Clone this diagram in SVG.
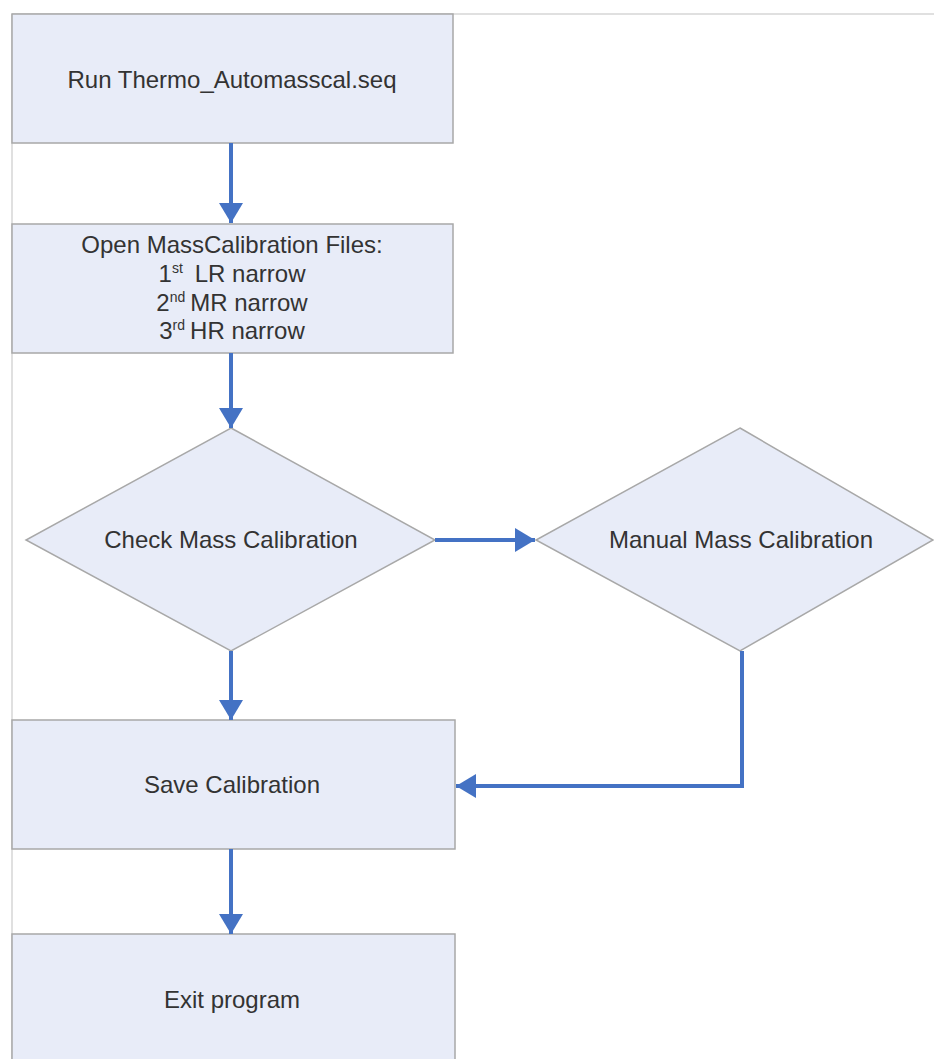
<svg xmlns="http://www.w3.org/2000/svg" width="934" height="1059" viewBox="0 0 934 1059">
<style>
.box{fill:#E8ECF8;stroke:#A8A8A8;stroke-width:1.5}
.frame{stroke:#D6D6D6;stroke-width:1.5;fill:none}
.t{font-family:"Liberation Sans",Arial,sans-serif;font-size:24px;fill:#333;text-anchor:middle}
.sup{font-size:14px}
.c{stroke:#4472C4;stroke-width:4;fill:none;marker-end:url(#ah)}
</style>
<defs>
<marker id="ah" markerUnits="userSpaceOnUse" markerWidth="22" markerHeight="24" refX="20" refY="12" orient="auto">
<path d="M0,0 L20,12 L0,24 z" fill="#4472C4"/>
</marker>
</defs>
<rect width="934" height="1059" fill="#FFFFFF"/>
<g id="frame">
<line class="frame" x1="12" y1="14" x2="934" y2="14"/>
<line class="frame" x1="12" y1="14" x2="12" y2="1059"/>
</g>
<g id="n1">
<rect class="box" x="12" y="14" width="441" height="129"/>
<text class="t" x="232" y="88">Run Thermo_Automasscal.seq</text>
</g>
<g id="n2">
<rect class="box" x="12" y="224" width="441" height="129"/>
<text class="t" x="232" y="253">Open MassCalibration Files:</text>
<text class="t" x="232" y="282">1<tspan class="sup" dy="-9">st</tspan><tspan dy="9" dx="12">LR narrow</tspan></text>
<text class="t" x="232" y="311">2<tspan class="sup" dy="-9">nd</tspan><tspan dy="9" dx="5">MR narrow</tspan></text>
<text class="t" x="232" y="339">3<tspan class="sup" dy="-9">rd</tspan><tspan dy="9" dx="5">HR narrow</tspan></text>
</g>
<g id="n3">
<polygon class="box" points="231,428 435,540 231,651 26,540"/>
<text class="t" x="231" y="548">Check Mass Calibration</text>
</g>
<g id="n4">
<polygon class="box" points="740,428 933,540 740,651 536,540"/>
<text class="t" x="741" y="548">Manual Mass Calibration</text>
</g>
<g id="n5">
<rect class="box" x="12" y="720" width="443" height="129"/>
<text class="t" x="232" y="793">Save Calibration</text>
</g>
<g id="n6">
<rect class="box" x="12" y="934" width="443" height="135"/>
<text class="t" x="232" y="1008">Exit program</text>
</g>
<g id="connectors">
<path class="c" d="M231,143 L231,223"/>
<path class="c" d="M231,353 L231,428"/>
<path class="c" d="M435,540 L535,540"/>
<path class="c" d="M231,651 L231,720"/>
<path class="c" d="M742,651 L742,786 L456,786"/>
<path class="c" d="M231,849 L231,934"/>
</g>
</svg>
